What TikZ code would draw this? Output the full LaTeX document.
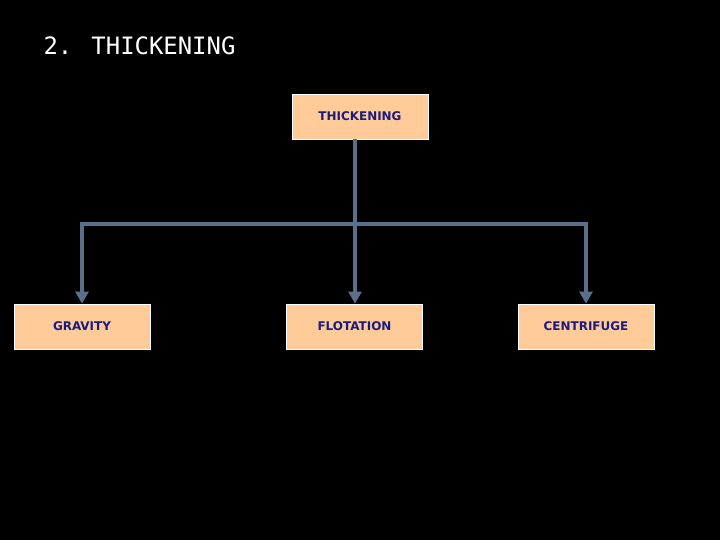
\documentclass[tikz,border=0pt]{standalone}
\usepackage{fontspec}
\setmainfont{DejaVu Sans}
\newfontfamily\titlefont{DejaVu Sans Mono}
\usetikzlibrary{arrows.meta}
\definecolor{peach}{HTML}{FFCC99}
\definecolor{navy}{HTML}{1A1A80}
\definecolor{conn}{HTML}{5B6E8A}
\begin{document}
\begin{tikzpicture}[x=1bp,y=-1bp,
  box/.style={draw=white,line width=0.8bp,fill=peach,minimum width=136bp,minimum height=45bp,inner sep=0pt,font=\fontsize{12}{14}\selectfont\bfseries,text=navy},
  link/.style={draw=conn,line width=4.5bp},
  arr/.style={link,-{Triangle[length=12bp,width=13bp]}}]
\fill[black] (0,0) rectangle (720,540);
\useasboundingbox (0,0) rectangle (720,540);
\node[anchor=west,text=white,font=\titlefont\fontsize{24}{28}\selectfont] (title) at (40,46) {2. THICKENING};
\node[box] (top) at (360,116.5) {THICKENING};
\node[box] (g) at (82,326.5) {GRAVITY};
\node[box] (f) at (354.5,326.5) {FLOTATION};
\node[box] (c) at (586,326.5) {CENTRIFUGE};
\coordinate (j) at (355,224);
\coordinate (l) at (82,224);
\coordinate (r) at (586,224);
\draw[link] (top.south -| j) -- (j);
\draw[link,line cap=rect] (l) -- (r);
\draw[arr] (l) -- (g.north);
\draw[arr] (j) -- (f.north -| j);
\draw[arr] (r) -- (c.north);
\end{tikzpicture}
\end{document}
